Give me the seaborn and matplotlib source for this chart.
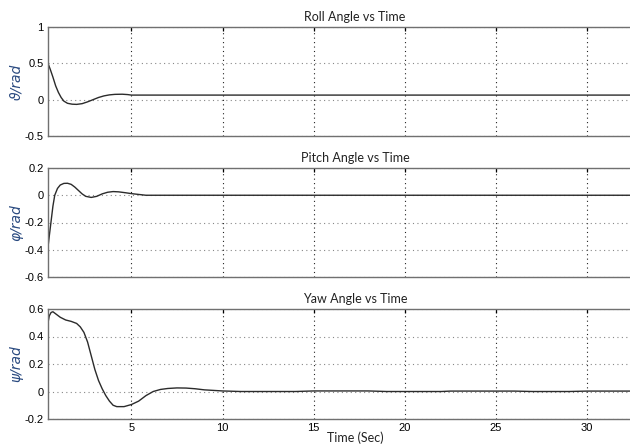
import matplotlib
matplotlib.use("Agg")
import matplotlib.pyplot as plt
import seaborn as sns
from matplotlib.ticker import FixedLocator, FixedFormatter

sns.set_style("white")
plt.rcParams["font.family"] = ["Liberation Sans", "DejaVu Sans"]
plt.rcParams["axes.unicode_minus"] = False

# values
roll_t = [0.43, 0.55, 0.7, 0.85, 1.0, 1.15, 1.3, 1.5, 1.75, 2.0, 2.3, 2.6, 2.9,
          3.2, 3.5, 3.8, 4.1, 4.5, 4.8, 5.0, 6.0, 34.1]
roll_v = [0.50, 0.42, 0.31, 0.19, 0.10, 0.03, -0.02, -0.05, -0.062, -0.065,
          -0.055, -0.03, 0.0, 0.03, 0.052, 0.066, 0.073, 0.075, 0.07, 0.063,
          0.063, 0.063]

pitch_t = [0.43, 0.5, 0.6, 0.7, 0.8, 0.95, 1.1, 1.3, 1.5, 1.7, 1.9, 2.1, 2.3,
           2.5, 2.8, 3.1, 3.4, 3.7, 4.0, 4.3, 4.7, 5.0, 5.4, 5.8, 34.1]
pitch_v = [-0.38, -0.30, -0.19, -0.08, 0.0, 0.05, 0.075, 0.087, 0.088, 0.08,
           0.06, 0.035, 0.01, -0.008, -0.016, -0.008, 0.01, 0.022, 0.027,
           0.025, 0.018, 0.012, 0.006, 0.0, 0.0]

yaw_t = [0.43, 0.5, 0.6, 0.7, 0.9, 1.1, 1.4, 1.7, 2.0, 2.2, 2.4, 2.6, 2.8, 3.0,
         3.2, 3.4, 3.6, 3.8, 4.0, 4.2, 4.6, 5.0, 5.4, 5.8, 6.2, 6.6, 7.0, 7.5,
         8.0, 8.5, 9.0, 10.0, 11.0, 14.0, 15.0, 18.0, 19.0, 22.0, 22.5, 26.0,
         27.0, 29.0, 30.0, 34.1]
yaw_v = [0.50, 0.55, 0.575, 0.58, 0.56, 0.54, 0.52, 0.51, 0.495, 0.47, 0.43,
         0.36, 0.26, 0.16, 0.08, 0.02, -0.03, -0.07, -0.10, -0.11, -0.11,
         -0.095, -0.07, -0.03, 0.0, 0.015, 0.022, 0.026, 0.025, 0.02, 0.012,
         0.004, 0.0, 0.0, 0.004, 0.004, 0.0, 0.0, 0.003, 0.003, 0.0, 0.0,
         0.003, 0.003]

titles = ["Roll Angle vs Time", "Pitch Angle vs Time", "Yaw Angle vs Time"]
ylabels = ["\u03d1/rad", "\u03c6/rad", "\u03c8/rad"]
yticks = [[-0.5, 0, 0.5, 1], [-0.6, -0.4, -0.2, 0, 0.2], [-0.2, 0, 0.2, 0.4, 0.6]]
yticklabels = [["-0.5", "0", "0.5", "1"], ["-0.6", "-0.4", "-0.2", "0", "0.2"],
               ["-0.2", "0", "0.2", "0.4", "0.6"]]
xticks = [5, 10, 15, 20, 25, 30]
xticklabels = ["5", "10", "15", "20", "25", "30"]

series = [(roll_t, roll_v), (pitch_t, pitch_v), (yaw_t, yaw_v)]

fig = plt.figure(figsize=(6.3, 4.46), dpi=100)
# axes run past the right edge of the picture, as in the reference crop
left, width = 48 / 630, 614 / 630
rows = [(27, 136), (168, 277), (309, 419)]

for i, ((t, v), (top, bot)) in enumerate(zip(series, rows)):
    ax = fig.add_axes([left, 1 - bot / 446, width, (bot - top) / 446])
    sns.lineplot(x=t, y=v, ax=ax, color="#2b2b2b", linewidth=1.0)
    ax.set_xlim(0.43, 34.1)
    ax.set_ylim(yticks[i][0], yticks[i][-1])
    ax.yaxis.set_major_locator(FixedLocator(yticks[i]))
    ax.yaxis.set_major_formatter(FixedFormatter(yticklabels[i]))
    ax.xaxis.set_major_locator(FixedLocator(xticks))
    if i == 2:
        ax.xaxis.set_major_formatter(FixedFormatter(xticklabels))
        ax.set_xlabel("Time (Sec)", family=["Lato", "DejaVu Sans"],
                      fontsize=9, color="#222222", labelpad=-1)
    else:
        ax.set_xticklabels([])
    ax.tick_params(direction="in", top=True, right=True, length=3,
                   width=0.9, labelsize=8, pad=3, colors="black")
    ax.grid(True, axis="x", linestyle=(0, (1, 3)), color="#222222", linewidth=0.8)
    ax.grid(True, axis="y", linestyle=(0, (1, 3)), color="#888888", linewidth=0.8)
    for s in ax.spines.values():
        s.set_color("#707070")
        s.set_linewidth(1.0)
    ax.set_title(titles[i], family=["Lato", "DejaVu Sans"], fontsize=9,
                 color="#222222", pad=4)
    ax.set_ylabel(ylabels[i], fontsize=10, style="italic", color="#2a4a80",
                  family=["DejaVu Sans"])
    ax.yaxis.set_label_coords(-0.04, 0.5)

fig.savefig("out.png", dpi=100)
